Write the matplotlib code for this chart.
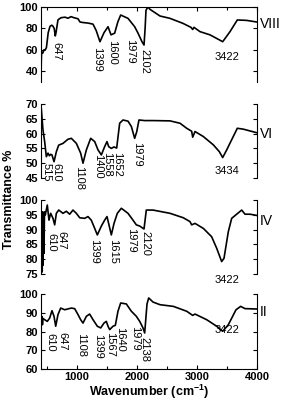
import matplotlib
matplotlib.use("Agg")
import matplotlib.pyplot as plt
from matplotlib.ticker import MultipleLocator

plt.rcParams['font.family'] = ['Liberation Sans', 'DejaVu Sans']
plt.rcParams['mathtext.fontset'] = 'custom'
plt.rcParams['mathtext.rm'] = 'Liberation Sans'
plt.rcParams['mathtext.bf'] = 'Liberation Sans:bold'
plt.rcParams['mathtext.default'] = 'bf'

# sample VIII
x8 = [400, 405, 410, 430, 450, 470, 490, 520, 550, 580, 600, 620, 638, 650, 683, 733,
      800, 850, 900, 950, 1017, 1050, 1100, 1183, 1267, 1320, 1383, 1450, 1517, 1567,
      1628, 1680, 1728, 1850, 1961, 2017, 2083, 2117, 2135, 2150, 2183, 2217, 2383,
      2550, 2767, 2900, 2928, 2950, 3050, 3217, 3383, 3428, 3550, 3672, 3828, 3995]
y8 = [31, 50, 58, 57, 60, 60, 62, 76, 82, 83, 82, 80, 73, 76, 88, 90,
      90.5, 89.5, 91, 90, 89, 86, 85.5, 85, 84, 78, 67.6, 76, 81.6, 74,
      75.6, 86, 92.5, 89.4, 81.6, 75.6, 67.6, 64.5, 80, 97, 100, 97.8, 91.6,
      89.4, 84.7, 81, 79, 81, 77, 74, 69, 67.6, 77, 87.9, 87.5, 86]

# sample VI
x6 = [400, 405, 433, 461, 489, 517, 540, 561, 583, 617, 656, 695, 767, 850, 906, 989,
      1061, 1100, 1156, 1228, 1295, 1350, 1406, 1461, 1500, 1528, 1572, 1617, 1661,
      1711, 1767, 1850, 1906, 1961, 1995, 2033, 2128, 2267, 2550, 2717, 2828, 2911,
      2928, 2967, 3106, 3272, 3372, 3428, 3495, 3672, 3772, 3883, 3995]
y6 = [62, 68.5, 61.2, 57.3, 52.2, 53.4, 52.5, 53, 52.8, 50.5, 53.9, 56.1, 56.7, 58.1, 58.4, 56.7,
      53.4, 50, 54.5, 58.4, 57.3, 54.5, 52.8, 55.6, 57.3, 55.6, 55, 55.5, 55.1,
      63.5, 64.6, 64.2, 62.4, 58.4, 60.6, 64.6, 64.4, 64.4, 64.3, 63.5, 61.8, 60.8,
      58.8, 60.7, 59, 56.2, 53.9, 51.9, 54.5, 61.8, 61.5, 60.9, 60.3]

# sample IV
x4 = [400, 405, 410, 415, 420, 428, 435, 442, 450, 458, 472, 505, 533, 561, 600, 628,
      656, 695, 767, 822, 878, 933, 989, 1045, 1128, 1183, 1238, 1295, 1339, 1406,
      1461, 1500, 1533, 1572, 1617, 1672, 1739, 1850, 1933, 1989, 2045, 2117, 2155,
      2267, 2550, 2772, 2883, 2911, 2967, 3106, 3244, 3328, 3411, 3450, 3522, 3578,
      3661, 3745, 3800, 3883, 3995]
y4 = [76, 95, 75.5, 93, 76, 96, 78, 94, 82, 96, 95, 98.3, 93.2, 95.5, 93.8, 91.6,
      95.5, 96.6, 95.5, 96.2, 95.2, 96.6, 95.5, 94, 93.8, 94.4, 93.2, 90.4, 88.2, 91.2,
      93.2, 94.4, 91.6, 88.2, 92.1, 95.5, 97.2, 95.5, 93.2, 91.6, 91.2, 90.2, 96.6,
      96.6, 95.5, 94, 92.7, 91.6, 92.1, 90.4, 87.6, 83.7, 79.2, 80.3, 89.3, 93.8,
      95.2, 96.6, 95.2, 95.2, 94.8]

# sample II
x2 = [400, 408, 416, 424, 433, 461, 505, 545, 583, 617, 645, 683, 728, 795, 906, 961,
      1017, 1061, 1100, 1156, 1211, 1267, 1339, 1395, 1450, 1489, 1517, 1545, 1600,
      1639, 1683, 1728, 1822, 1906, 1989, 2045, 2100, 2128, 2167, 2195, 2267, 2383,
      2606, 2828, 2928, 2967, 3161, 3328, 3428, 3522, 3650, 3728, 3800, 3995]
y2 = [89, 84, 88, 83.6, 87, 86.3, 85.4, 87.2, 91.1, 88.1, 82.8, 89, 92.5, 91.6, 92.5, 92.2,
      89, 86.3, 84.5, 88.1, 89.3, 86.3, 82.8, 81.9, 84.5, 85.4, 82.8, 81, 82.8,
      83.3, 90.8, 95.2, 94.7, 90.8, 88.1, 85.4, 81.9, 79.2, 94.7, 97.9, 95.7, 94.3,
      93.4, 90.8, 88.6, 89.3, 86.3, 82.8, 80.1, 83.6, 91.6, 93.4, 92.2, 92]

names = ['VIII', 'VI', 'IV', 'II']
xs = [x8, x6, x4, x2]
ys = [y8, y6, y4, y2]
ylims = [(30, 100), (45, 70), (75, 100), (60, 100)]
ysteps = [20, 5, 5, 10]
name_y = [84, 60, 93, 90.5]

# peak labels: (text, x, y, rotated)
labels = [
    [('647', 650, 67, True), ('1399', 1342, 62.6, True), ('1600', 1578, 69, True),
     ('1979', 1883, 70, True), ('2102', 2117, 61, True), ('3422', 3500, 53, False)],
    [('515', 495, 50.1, True), ('610', 660, 50, True), ('1108', 1039, 49.2, True),
     ('1400', 1345, 53.1, True), ('1558', 1495, 53.8, True), ('1652', 1661, 53.8, True),
     ('1979', 1995, 57.3, True), ('3434', 3500, 47.4, False)],
    [('610', 565, 89.0, True), ('647', 745, 89.6, True), ('1399', 1283, 86.8, True),
     ('1615', 1600, 86.8, True), ('1979', 1905, 90.5, True), ('2120', 2133, 89.5, True),
     ('3422', 3500, 73, False)],
    [('610', 550, 79.2, True), ('647', 758, 80, True), ('1108', 1067, 79.2, True),
     ('1399', 1350, 78.5, True), ('1567', 1555, 80, True), ('1640', 1712, 82.6, True),
     ('1979', 1961, 83.2, True), ('2138', 2128, 77.3, True), ('3422', 3500, 80.7, False)],
]

fig = plt.figure(figsize=(2.85, 4.03), dpi=100)
tops = [7, 104, 200, 294]
bottoms = [82, 178, 274, 369]
left = 41 / 285
width = 216 / 285

for i in range(4):
    ax = fig.add_axes([left, 1 - bottoms[i] / 403, width, (bottoms[i] - tops[i]) / 403])
    ax.plot(xs[i], ys[i], color='black', lw=1.2)
    ax.set_xlim(400, 4000)
    ax.set_ylim(*ylims[i])
    ax.yaxis.set_major_locator(MultipleLocator(ysteps[i]))
    ax.xaxis.set_major_locator(MultipleLocator(1000))
    ax.xaxis.set_minor_locator(MultipleLocator(500))
    ax.tick_params(direction='in', length=3, width=0.8, right=True, labelsize=8, pad=2)
    ax.tick_params(which='minor', direction='in', length=2, width=0.8)
    for lab in ax.get_yticklabels() + ax.get_xticklabels():
        lab.set_fontweight('bold')
    if i == 0:
        ax.spines['bottom'].set_visible(False)
        ax.tick_params(which='both', bottom=False, top=True, labelbottom=False)
    elif i < 3:
        ax.spines['bottom'].set_visible(False)
        ax.spines['top'].set_visible(False)
        ax.tick_params(which='both', bottom=False, top=False, labelbottom=False)
    else:
        ax.spines['top'].set_visible(False)
        ax.tick_params(which='both', top=False)
        ax.set_xlabel('Wavenumber (cm$^{-1}$)', fontsize=9, fontweight='bold', labelpad=1)
    for t, lx, ly, rot in labels[i]:
        if rot:
            ax.text(lx, ly, t, rotation=270, ha='center', va='top', fontsize=8,
                    clip_on=False)
        else:
            ax.text(lx, ly, t, ha='center', va='center', fontsize=8, clip_on=False)
    ax.text(1.015, name_y[i], names[i], transform=ax.get_yaxis_transform(),
            ha='left', va='center', fontsize=10)

fig.text(0.03, 0.505, 'Transmittance %', rotation=90, ha='center', va='center',
         fontsize=9, fontweight='bold')

fig.savefig('out.png', dpi=100)
